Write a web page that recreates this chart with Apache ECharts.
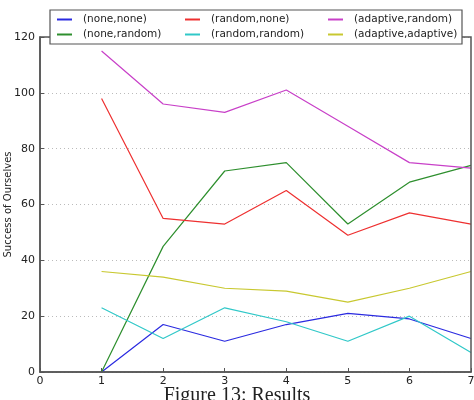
<!DOCTYPE html>
<html>
<head>
<meta charset="utf-8">
<script src="https://cdn.jsdelivr.net/npm/echarts@6/dist/echarts.min.js"></script>
<style>
  html, body { margin: 0; padding: 0; background: #fff; }
  #chart { width: 474px; height: 400px; }
</style>
</head>
<body>
<div id="chart"></div>
<script>
// x positions and series values
const xs = [1, 2, 3, 4, 5, 6, 7];
const noneNone = [0, 17, 11, 17, 21, 19, 12];
const noneRandom = [0, 45, 72, 75, 53, 68, 74];
const randomNone = [98, 55, 53, 65, 49, 57, 53];
const randomRandom = [23, 12, 23, 18, 11, 20, 7];
const adaptiveRandom = [115, 96, 93, 101, 88, 75, 73];
const adaptiveAdaptive = [36, 34, 30, 29, 25, 30, 36];

const names = ['(none,none)', '(none,random)', '(random,none)', '(random,random)', '(adaptive,random)', '(adaptive,adaptive)'];
const values = [noneNone, noneRandom, randomNone, randomRandom, adaptiveRandom, adaptiveAdaptive];
const colors = ['#2a2ae0', '#2e8f2e', '#ee3030', '#30c8c8', '#c840c8', '#c8c830'];

const fnt = 'DejaVu Sans';

function pairs(arr) {
  return xs.map(function (x, i) { return [x, arr[i]]; });
}

const series = names.map(function (n, i) {
  return {
    name: n,
    type: 'line',
    data: pairs(values[i]),
    symbol: 'none',
    lineStyle: { width: 1.2, color: colors[i] },
    itemStyle: { color: colors[i] },
    z: 3
  };
});

// legend in three columns, two rows each
const legendCols = [[names[0], names[1]], [names[2], names[3]], [names[4], names[5]]];
const legendLeft = [57, 185, 328];
const legends = legendCols.map(function (col, i) {
  return {
    data: col,
    orient: 'vertical',
    left: legendLeft[i],
    top: 14,
    padding: 0,
    z: 20,
    itemWidth: 15,
    itemHeight: 2,
    itemGap: 4,
    icon: 'rect',
    textStyle: { fontFamily: fnt, fontSize: 10.5, color: '#222', padding: [0, 0, 0, 6] },
    selectedMode: false
  };
});

var chart = echarts.init(document.getElementById('chart'));
chart.setOption({
  animation: false,
  legend: legends,
  grid: { left: 40, right: 3, top: 37, bottom: 28, outerBoundsMode: 'none', containLabel: false },
  xAxis: {
    type: 'value',
    min: 0, max: 7, interval: 1,
    axisLine: { show: true, onZero: false, lineStyle: { color: '#555', width: 1.5 } },
    axisTick: { inside: true, length: 4, lineStyle: { color: '#555' } },
    axisLabel: { fontFamily: fnt, fontSize: 11, color: '#222', margin: 4 },
    splitLine: { show: false }
  },
  yAxis: {
    type: 'value',
    min: 0, max: 120, interval: 20,
    name: 'Success of Ourselves',
    nameLocation: 'middle',
    nameGap: 27,
    nameMoveOverlap: false,
    nameTextStyle: { fontFamily: fnt, fontSize: 10, color: '#222' },
    axisLine: { show: true, lineStyle: { color: '#555', width: 1.5 } },
    axisTick: { inside: true, length: 4, lineStyle: { color: '#555' } },
    axisLabel: { fontFamily: fnt, fontSize: 11, color: '#222', margin: 5 },
    splitLine: { show: true, lineStyle: { color: '#bbb', type: [1, 3] } }
  },
  graphic: [
    {
      type: 'rect',
      shape: { x: 50, y: 10, width: 412, height: 34 },
      style: { fill: '#fff', stroke: '#555', lineWidth: 1.2 },
      z: 10
    },
    {
      type: 'rect',
      shape: { x: 40, y: 37, width: 431, height: 335 },
      style: { fill: 'none', stroke: '#555', lineWidth: 1.5 },
      z: 5, silent: true
    },
    {
      type: 'text',
      left: 'center',
      top: 386,
      style: { text: 'Figure 13: Results', font: '20px "Liberation Serif"', fill: '#222' }
    }
  ],
  series: series
});
</script>
</body>
</html>
